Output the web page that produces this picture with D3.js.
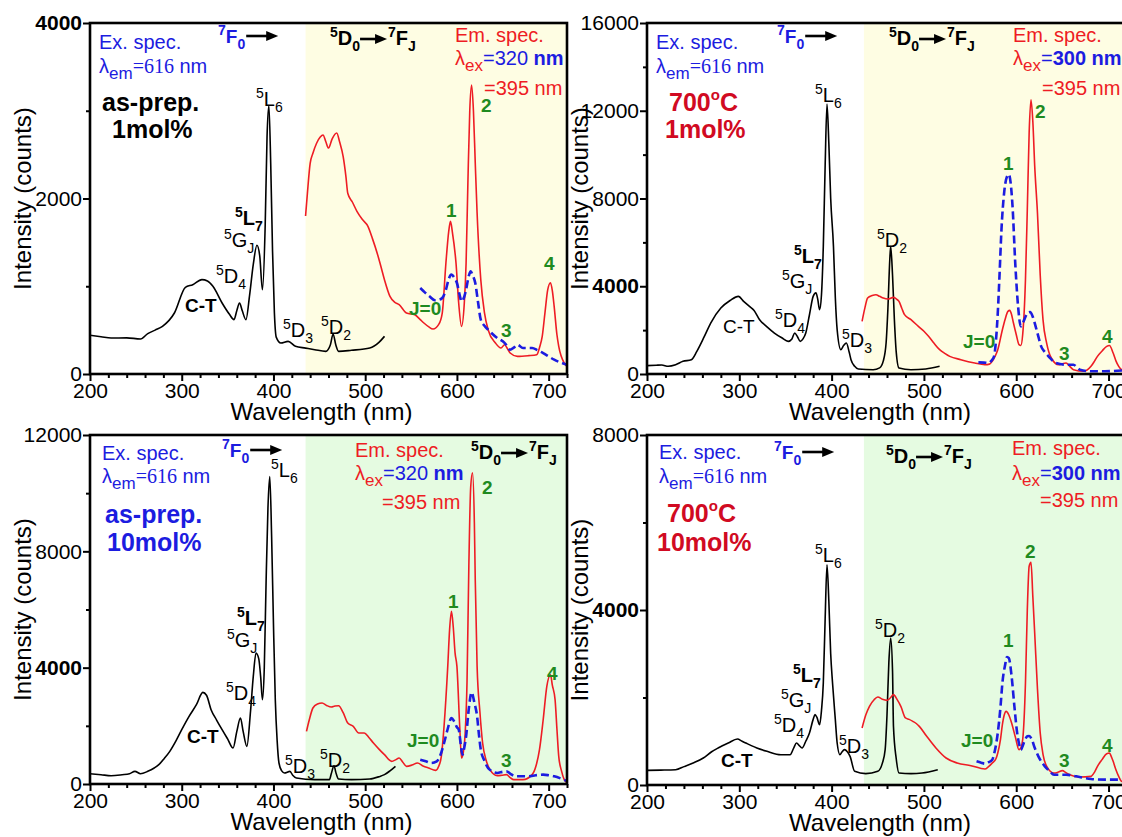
<!DOCTYPE html>
<html><head><meta charset="utf-8">
<script src="https://cdn.jsdelivr.net/npm/d3@7"></script>
<style>body{margin:0;background:#fff} svg{display:block} text{font-family:"Liberation Sans",Arial,sans-serif}</style>
</head><body><svg id="c" width="1122" height="837"></svg>
<script>
// ---------------- DATA ----------------
const xMajorTicks = [200, 300, 400, 500, 600, 700];
const xMinorTicks = [220, 240, 260, 280, 320, 340, 360, 380, 420, 440, 460, 480, 520, 540, 560, 580, 620, 640, 660, 680, 720];
const shadeStartNm = 435;

// as-prepared 1 mol%
const exAP1 = [[200,441],[212,425],[223,410],[240,412],[255,399],[263,460],[271,500],[279,543],[292,695],[304,988],[312,1018],[322,1075],[328,1060],[334,999],[344,809],[352,680],[357,620],[360,720],[363,809],[366,720],[370,619],[374,900],[378,1250],[382,1467],[385,1350],[388,961],[391,1700],[393,2700],[395,3060],[397,2400],[399,1400],[401,700],[403,420],[408,353],[416,372],[424,315],[435,295],[445,277],[457,258],[462,330],[465,456],[468,330],[471,258],[485,270],[505,296],[515,360],[521,429]];
const emAP1_395 = [[435,1800],[437,2060],[440,2400],[443,2515],[447,2630],[451,2700],[454,2724],[457,2650],[460,2575],[464,2680],[469,2746],[472,2650],[476,2477],[479,2250],[481,2060],[486,1960],[491,1854],[497,1760],[503,1683],[508,1540],[513,1380],[517,1230],[521,1075],[527,885],[532,820],[537,790],[545,695],[554,676],[560,620],[564,581],[569,540],[574,513],[580,562],[584,695],[588,1265],[591,1620],[593,1740],[595,1620],[599,1265],[602,800],[605,543],[608,800],[610,1265],[612,2200],[614,3000],[616,3293],[618,3000],[620,2400],[622,1835],[626,1075],[630,700],[634,505],[642,353],[648,296],[652,334],[655,290],[658,239],[666,201],[678,209],[687,220],[690,300],[693,429],[696,700],[699,961],[702,1040],[704,950],[706,771],[709,450],[711,315],[717,125],[720,87]];
const emAP1_320 = [[560,980],[565,930],[570,885],[576,840],[580,845],[584,866],[588,960],[591,1080],[594,1132],[597,1100],[600,1037],[603,900],[605,828],[608,880],[610,961],[613,1120],[615,1170],[617,1130],[620,1037],[623,820],[626,619],[630,550],[634,505],[644,410],[650,372],[654,330],[658,277],[662,300],[666,334],[672,296],[682,296],[688,270],[694,239],[700,200],[706,163],[712,135],[720,106]];

// 700 C 1 mol%
const ex700_1 = [[200,380],[210,400],[216,410],[223,350],[231,420],[239,577],[248,650],[254,1033],[262,1700],[269,2324],[280,3007],[290,3350],[299,3540],[305,3300],[311,3083],[316,2900],[322,2476],[330,2150],[338,1868],[346,1650],[353,1489],[357,1600],[360,1868],[363,1700],[366,1489],[369,1600],[372,1868],[376,2700],[380,3540],[383,3700],[385,3400],[387,2932],[389,3600],[391,5818],[393,9500],[395,12300],[397,10500],[399,8000],[402,5818],[404,3500],[406,2020],[410,1109],[413,1300],[416,1413],[419,1000],[421,653],[425,350],[429,228],[445,197],[452,280],[456,600],[459,1400],[461,3000],[463,5200],[464,5818],[466,4500],[468,2476],[470,1000],[473,273],[486,197],[502,228],[517,350]];
const em700_1_395 = [[433,2400],[436,3000],[439,3463],[444,3580],[448,3615],[452,3540],[456,3460],[461,3418],[467,3494],[470,3420],[473,3311],[476,3000],[479,2704],[486,2476],[494,2172],[500,1950],[505,1716],[511,1400],[517,1109],[523,930],[528,805],[540,653],[555,501],[566,425],[571,450],[574,577],[577,800],[580,1109],[585,2020],[588,2500],[591,2856],[593,2900],[595,2700],[597,2324],[600,1800],[603,1337],[605,1300],[607,1800],[610,4300],[612,7500],[614,11000],[616,12500],[618,11500],[620,9500],[623,7340],[626,4500],[629,2476],[633,1400],[638,729],[646,425],[650,470],[654,501],[658,350],[662,197],[673,122],[681,350],[685,600],[688,805],[693,1050],[698,1261],[701,1300],[705,957],[708,600],[711,350],[714,200],[720,100]];
const em700_1_300 = [[559,531],[565,520],[570,500],[573,600],[576,805],[578,1500],[580,2780],[582,4600],[584,6577],[587,8300],[590,9000],[592,9100],[594,8700],[596,7640],[599,5000],[602,3083],[605,2172],[609,2500],[612,2780],[615,2820],[618,2600],[621,2172],[624,1700],[627,1261],[631,1000],[635,805],[643,501],[654,425],[662,425],[666,300],[669,197],[681,122],[696,122],[706,140],[720,180]];

// as-prepared 10 mol%
const exAP10 = [[200,355],[212,320],[223,286],[235,320],[243,355],[249,435],[255,355],[263,435],[270,550],[275,665],[281,880],[287,1123],[294,1500],[300,1868],[308,2326],[316,2727],[323,3150],[327,3050],[332,2555],[338,2200],[344,1868],[350,1550],[356,1238],[360,1800],[364,2269],[367,1800],[371,1295],[375,2500],[378,3700],[381,4504],[384,4300],[386,3700],[388,2900],[390,4000],[392,7000],[394,9500],[396,10575],[398,8500],[400,5500],[402,2900],[404,1500],[406,722],[409,450],[412,378],[418,435],[421,300],[425,206],[445,149],[461,149],[463,350],[466,630],[468,400],[471,172],[485,149],[505,172],[515,250],[521,321],[527,450],[533,607]];
const emAP10_395 = [[436,1810],[439,2200],[443,2613],[448,2750],[453,2785],[458,2700],[463,2647],[467,2680],[471,2693],[476,2450],[481,2097],[487,1983],[493,1753],[499,1753],[504,1600],[509,1410],[515,1200],[521,1008],[529,779],[533,830],[537,894],[541,750],[545,607],[551,650],[557,722],[563,620],[569,550],[577,470],[580,600],[583,951],[586,2000],[590,4045],[592,5300],[594,5936],[596,5400],[598,4500],[600,4045],[603,2000],[605,894],[607,1100],[609,1753],[611,3500],[613,7500],[615,10200],[617,10700],[619,9000],[620,7000],[622,4045],[625,2500],[628,1410],[632,800],[636,493],[644,287],[649,300],[654,321],[658,220],[662,149],[672,149],[682,321],[686,600],[690,1180],[694,2200],[698,3358],[702,3759],[704,3400],[707,2900],[709,1900],[711,951],[714,450],[717,149],[720,50]];
const emAP10_320 = [[560,837],[566,780],[572,722],[578,779],[582,1000],[586,1410],[590,1900],[594,2269],[597,2150],[600,1950],[602,1868],[604,1400],[606,1008],[608,1250],[610,1639],[613,2600],[616,3152],[619,2800],[622,2326],[624,1700],[626,1180],[630,800],[634,550],[644,378],[650,420],[654,435],[658,360],[664,264],[678,264],[686,300],[694,321],[700,300],[706,264],[714,180],[720,100]];

// 700 C 10 mol%
const ex700_10 = [[200,335],[215,340],[231,350],[240,420],[250,503],[261,617],[270,760],[277,846],[288,960],[298,1052],[303,1000],[307,960],[313,900],[319,846],[330,770],[345,693],[355,693],[359,850],[362,960],[365,900],[368,846],[372,1000],[376,1189],[380,1500],[382,1608],[384,1550],[387,1379],[389,1700],[391,2332],[393,3800],[395,5036],[397,4200],[399,3000],[401,2332],[404,1500],[406,960],[409,693],[411,750],[414,808],[417,760],[420,655],[425,312],[437,259],[450,312],[455,500],[458,808],[460,1600],[462,2800],[464,3360],[466,2600],[467,1341],[470,600],[473,274],[486,259],[498,274],[515,350]];
const em700_10_395 = [[433,1303],[437,1600],[441,1798],[446,1950],[450,2012],[455,1960],[460,1935],[464,2000],[467,2065],[471,1950],[475,1798],[480,1532],[484,1500],[488,1455],[492,1400],[495,1341],[503,1113],[513,846],[524,617],[536,503],[551,442],[566,366],[570,420],[574,503],[578,600],[580,731],[583,1050],[585,1379],[587,1600],[589,1684],[592,1600],[595,1417],[599,1100],[603,808],[605,850],[607,1036],[610,2332],[612,4000],[614,5000],[616,5089],[618,4300],[620,3475],[623,2200],[626,1189],[629,700],[633,427],[641,274],[645,290],[650,328],[654,280],[658,236],[669,183],[681,198],[685,300],[688,427],[693,580],[698,716],[701,730],[703,650],[705,541],[708,350],[711,198],[714,84],[720,60]];
const em700_10_300 = [[557,541],[562,510],[566,488],[570,520],[574,579],[577,800],[580,1189],[583,1800],[585,2332],[588,2750],[590,2926],[592,2900],[595,2484],[598,1800],[601,1189],[603,950],[605,808],[608,950],[612,1113],[614,1120],[617,1036],[620,850],[624,655],[631,427],[636,320],[641,236],[654,236],[665,198],[681,137],[696,122],[720,122]];

const yTicksTL = [0, 2000, 4000], yMinorTL = [1000, 3000];
const yTicksTR = [0, 4000, 8000, 12000, 16000], yMinorTR = [2000, 6000, 10000, 14000];
const yTicksBL = [0, 4000, 8000, 12000], yMinorBL = [2000, 6000, 10000];
const yTicksBR = [0, 4000, 8000], yMinorBR = [2000, 6000];

const sampleText = { tl: ["as-prep.", "1mol%"], tr: ["700", "1mol%"], bl: ["as-prep.", "10mol%"], br: ["700", "10mol%"] };
const uvExc = { tl: "320", tr: "300", bl: "320", br: "300" };

// ---------------- LAYOUT ----------------
const BLUE = "#1c1ce0", RED = "#ee1c24", GREEN = "#1f8a1f", CRIMSON = "#d10a22";
const panels = [
  { id: "tl", left: 90, top: 23, right: 567, bottom: 374, ymax: 4000, yT: yTicksTL, yM: yMinorTL, shade: "#fefde3",
    ex: exAP1, em: emAP1_395, uv: emAP1_320, sampleColor: "#000", sampleOff: [[12, 88], [22, 115]],
    hdr: { ex: [9, 26], lem: [9, 50], f0: [128, 20], d0: [240, 22], em: [365, 19], lex: [365, 42], l395: [394, 72] },
    ctBold: true,
    lab: { L6: [166, 83], L7: [145, 202], GJ: [134, 224], D4: [126, 260], CT: [95, 289], D3: [193, 314], D2: [231, 311], J0: [319, 292], n1: [356, 194], n2: [391, 89], n3: [411, 314], n4: [454, 247] } },
  { id: "tr", left: 647, top: 23, right: 1127, bottom: 374, ymax: 16000, yT: yTicksTR, yM: yMinorTR, shade: "#fefde3",
    ex: ex700_1, em: em700_1_395, uv: em700_1_300, sampleColor: CRIMSON, sampleOff: [[22, 88], [18, 115]],
    hdr: { ex: [9, 26], lem: [9, 50], f0: [130, 20], d0: [242, 22], em: [366, 19], lex: [366, 42], l395: [395, 72] },
    ctBold: false,
    lab: { L6: [168, 79], L7: [147, 240], GJ: [135, 265], D4: [128, 304], CT: [76, 310], D3: [195, 324], D2: [230, 224], J0: [316, 325], n1: [356, 147], n2: [388, 95], n3: [412, 337], n4: [455, 320] } },
  { id: "bl", left: 90, top: 435, right: 567, bottom: 784, ymax: 12000, yT: yTicksBL, yM: yMinorBL, shade: "#e5fbe1",
    ex: exAP10, em: emAP10_395, uv: emAP10_320, sampleColor: BLUE, sampleOff: [[15, 88], [17, 116]],
    hdr: { ex: [12, 25], lem: [12, 48], f0: [132, 22], d0: [381, 24], em: [265, 22], lex: [265, 45], l395: [292, 74] },
    ctBold: true,
    lab: { L6: [181, 42], L7: [147, 190], GJ: [137, 212], D4: [136, 265], CT: [97, 308], D3: [195, 338], D2: [230, 332], J0: [317, 312], n1: [358, 173], n2: [392, 59], n3: [411, 332], n4: [457, 245] } },
  { id: "br", left: 647, top: 435, right: 1127, bottom: 785, ymax: 8000, yT: yTicksBR, yM: yMinorBR, shade: "#e5fbe1",
    ex: ex700_10, em: em700_10_395, uv: em700_10_300, sampleColor: CRIMSON, sampleOff: [[20, 87], [10, 116]],
    hdr: { ex: [12, 24], lem: [12, 48], f0: [127, 24], d0: [239, 28], em: [365, 20], lex: [365, 45], l395: [393, 72] },
    ctBold: true,
    lab: { L6: [168, 127], L7: [146, 247], GJ: [134, 272], D4: [127, 297], CT: [74, 332], D3: [192, 318], D2: [228, 202], J0: [314, 312], n1: [356, 212], n2: [378, 123], n3: [412, 332], n4: [455, 317] } }
];

const svg = d3.select("#c");

function rich(g, x, y, segs, base) {
  const t = g.append("text").attr("x", x).attr("y", y)
    .attr("font-size", base.size).attr("fill", base.fill || "#000")
    .attr("font-weight", base.bold ? "bold" : "normal");
  if (base.family) t.attr("font-family", base.family);
  let cur = 0;
  segs.forEach(s => {
    const off = s.sup ? -Math.round(base.size * 0.42) : s.sub ? Math.round(base.size * 0.32) : 0;
    const ts = t.append("tspan").attr("dy", off - cur).text(s.t);
    cur = off;
    if (s.sup || s.sub) ts.attr("font-size", s.size || Math.round(base.size * 0.72));
    if (s.fill) ts.attr("fill", s.fill);
    if (s.bold !== undefined) ts.attr("font-weight", s.bold ? "bold" : "normal");
    if (s.family) ts.attr("font-family", s.family);
  });
  return t;
}
function arrow(g, x1, x2, y) {
  g.append("line").attr("x1", x1).attr("x2", x2 - 6).attr("y1", y).attr("y2", y)
    .attr("stroke", "#000").attr("stroke-width", 2.6);
  g.append("path").attr("d", `M${x2},${y} L${x2 - 12},${y - 5} L${x2 - 12},${y + 5} Z`).attr("fill", "#000");
}

panels.forEach(p => {
  const g = svg.append("g");
  const x = d3.scaleLinear().domain([200, 720]).range([p.left, p.right]);
  const y = d3.scaleLinear().domain([0, p.ymax]).range([p.bottom, p.top]);
  const clipId = "clip-" + p.id;
  svg.append("clipPath").attr("id", clipId).append("rect")
    .attr("x", p.left).attr("y", p.top).attr("width", p.right - p.left).attr("height", p.bottom - p.top);

  g.append("rect").attr("x", x(shadeStartNm)).attr("y", p.top)
    .attr("width", x(720) - x(shadeStartNm)).attr("height", p.bottom - p.top).attr("fill", p.shade);

  const line = d3.line().x(d => x(d[0])).y(d => y(d[1])).curve(d3.curveMonotoneX);
  const cg = g.append("g").attr("clip-path", `url(#${clipId})`);
  cg.append("path").datum(p.ex).attr("d", line).attr("fill", "none").attr("stroke", "#000").attr("stroke-width", 1.6);
  cg.append("path").datum(p.em).attr("d", line).attr("fill", "none").attr("stroke", RED).attr("stroke-width", 1.6);
  cg.append("path").datum(p.uv).attr("d", line).attr("fill", "none").attr("stroke", BLUE).attr("stroke-width", 2.6).attr("stroke-dasharray", "8,4");

  // axes
  const xMinorAxis = d3.axisBottom(x).tickValues(xMinorTicks).tickSize(4).tickFormat("");
  const xAxis = d3.axisBottom(x).tickValues(xMajorTicks).tickSize(7).tickPadding(2).tickFormat(d3.format("d"));
  const yMinorAxis = d3.axisLeft(y).tickValues(p.yM).tickSize(4).tickFormat("");
  const yAxis = d3.axisLeft(y).tickValues(p.yT).tickSize(7).tickPadding(1).tickFormat(d3.format("d"));
  [[xMinorAxis, "x"], [xAxis, "x"], [yMinorAxis, "y"], [yAxis, "y"]].forEach(([ax, k]) => {
    const a = g.append("g").attr("transform", k === "x" ? `translate(0,${p.bottom})` : `translate(${p.left},0)`).call(ax);
    a.select(".domain").remove();
    a.selectAll(".tick line").attr("stroke", "#000").attr("stroke-width", 2);
    a.selectAll("text").attr("font-size", 21).attr("fill", "#000").attr("font-family", '"Liberation Sans", Arial, sans-serif');
  });
  g.selectAll(".tick text").filter(d => d === 4000).attr("font-weight", "bold");

  g.append("rect").attr("x", p.left).attr("y", p.top).attr("width", p.right - p.left).attr("height", p.bottom - p.top)
    .attr("fill", "none").attr("stroke", "#000").attr("stroke-width", 2.6);

  // axis titles
  g.append("text").attr("transform", `translate(${p.left - 67},${(p.top + p.bottom) / 2}) rotate(-90)`)
    .attr("text-anchor", "middle").attr("font-size", 24).attr("dy", "0.35em").text("Intensity (counts)");
  g.append("text").attr("x", (p.left + p.right) / 2 - 7).attr("y", p.bottom + 46)
    .attr("text-anchor", "middle").attr("font-size", 24).text("Wavelength (nm)");

  const L = p.left, T = p.top, h = p.hdr;
  // header texts
  rich(g, L + h.ex[0], T + h.ex[1], [{ t: "Ex. spec." }], { size: 20, fill: BLUE });
  rich(g, L + h.lem[0], T + h.lem[1], [{ t: "λ" }, { t: "em", sub: 1, size: 17 }, { t: "=616", family: '"Liberation Serif", serif' }, { t: " nm" }], { size: 20, fill: BLUE });
  const f0 = rich(g, L + h.f0[0], T + h.f0[1], [{ t: "7", sup: 1 }, { t: "F" }, { t: "0", sub: 1 }], { size: 19, fill: BLUE, bold: true });
  const f0w = f0.node().getComputedTextLength();
  arrow(g, L + h.f0[0] + f0w + 1, L + h.f0[0] + f0w + 33, T + h.f0[1] - 7);
  const d0 = rich(g, L + h.d0[0], T + h.d0[1], [{ t: "5", sup: 1 }, { t: "D" }, { t: "0", sub: 1 }], { size: 20, bold: true });
  const d0w = d0.node().getComputedTextLength();
  arrow(g, L + h.d0[0] + d0w, L + h.d0[0] + d0w + 27, T + h.d0[1] - 6);
  rich(g, L + h.d0[0] + d0w + 28, T + h.d0[1], [{ t: "7", sup: 1 }, { t: "F" }, { t: "J", sub: 1 }], { size: 20, bold: true });
  rich(g, L + h.em[0], T + h.em[1], [{ t: "Em. spec." }], { size: 20, fill: RED });
  const uvSegs = (p.id === "tl" || p.id === "bl")
    ? [{ t: "λ" }, { t: "ex", sub: 1, size: 17 }, { t: "=" + uvExc[p.id], fill: BLUE }, { t: " nm", fill: BLUE, bold: true }]
    : [{ t: "λ" }, { t: "ex", sub: 1, size: 17 }, { t: "=", fill: BLUE }, { t: uvExc[p.id] + " nm", fill: BLUE, bold: true }];
  rich(g, L + h.lex[0], T + h.lex[1], uvSegs, { size: 20, fill: RED });
  rich(g, L + h.l395[0], T + h.l395[1], [{ t: "=395 nm" }], { size: 20, fill: RED });

  // sample labels
  const s = sampleText[p.id];
  if (p.id === "tr" || p.id === "br") {
    rich(g, L + p.sampleOff[0][0], T + p.sampleOff[0][1], [{ t: s[0] }, { t: "o", sup: 1, size: 15 }, { t: "C" }], { size: 25, bold: true, fill: p.sampleColor });
  } else {
    rich(g, L + p.sampleOff[0][0], T + p.sampleOff[0][1], [{ t: s[0] }], { size: 25, bold: true, fill: p.sampleColor });
  }
  rich(g, L + p.sampleOff[1][0], T + p.sampleOff[1][1], [{ t: s[1] }], { size: 25, bold: true, fill: p.sampleColor });

  // peak labels
  const lb = p.lab;
  const term = (pos, a, b, bold) => rich(g, L + pos[0], T + pos[1], [{ t: "5", sup: 1 }, { t: a }, { t: b, sub: 1 }], { size: 20, bold: !!bold });
  term(lb.L6, "L", "6");
  term(lb.L7, "L", "7", true);
  term(lb.GJ, "G", "J");
  term(lb.D4, "D", "4");
  term(lb.D3, "D", "3");
  term(lb.D2, "D", "2");
  rich(g, L + lb.CT[0], T + lb.CT[1], [{ t: "C-T" }], { size: 19, bold: p.ctBold });
  rich(g, L + lb.J0[0], T + lb.J0[1], [{ t: "J=0" }], { size: 19, bold: true, fill: GREEN });
  [["n1", "1"], ["n2", "2"], ["n3", "3"], ["n4", "4"]].forEach(([k, t]) =>
    rich(g, L + lb[k][0], T + lb[k][1], [{ t }], { size: 19, bold: true, fill: GREEN }));
});
</script></body></html>
